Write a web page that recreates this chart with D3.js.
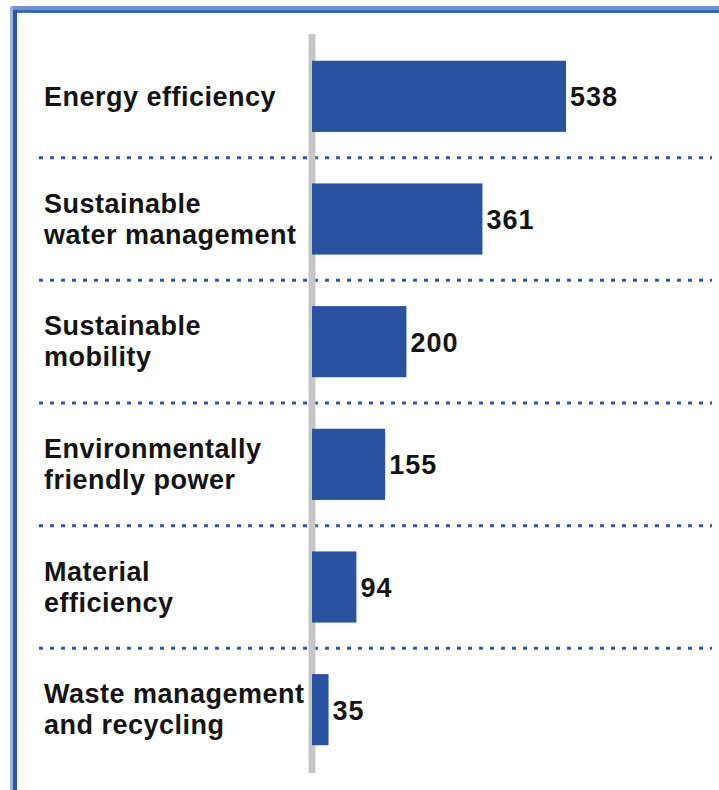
<!DOCTYPE html>
<html>
<head>
<meta charset="utf-8">
<script src="https://cdn.jsdelivr.net/npm/d3@7"></script>
<style>
  body { margin: 0; background: #fff; }
  svg { display: block; }
</style>
</head>
<body>
<svg id="chart"></svg>
<script>
const width = 719;
const height = 790;

// Categories (one entry per label line) and values
const categories = [
  ['Energy efficiency'],
  ['Sustainable', 'water management'],
  ['Sustainable', 'mobility'],
  ['Environmentally', 'friendly power'],
  ['Material', 'efficiency'],
  ['Waste management', 'and recycling']
];
const values = [538, 361, 200, 155, 94, 35];

const data = categories.map((lines, i) => ({ key: lines.join(' '), lines, value: values[i] }));

const svg = d3.select('#chart')
  .attr('width', width)
  .attr('height', height);

const x = d3.scaleLinear()
  .domain([0, d3.max(values)])
  .range([312, 566]);

const y = d3.scaleBand()
  .domain(data.map(d => d.key))
  .range([35, 771])
  .paddingInner(0.42)
  .paddingOuter(0.21);

const font = '"Liberation Sans", Arial, sans-serif';

// Frame: top and left borders
svg.append('rect').attr('x', 10).attr('y', 6).attr('width', width - 10).attr('height', 4).attr('fill', '#7191c9');
svg.append('rect').attr('x', 10).attr('y', 10).attr('width', width - 10).attr('height', 3).attr('fill', '#3f66b1');
svg.append('rect').attr('x', 10).attr('y', 6).attr('width', 3).attr('height', height).attr('fill', '#9fb3da');
svg.append('rect').attr('x', 13).attr('y', 10).attr('width', 4).attr('height', height).attr('fill', '#2a55aa');

// Dotted separators between categories
const gap = y.step() - y.bandwidth();
svg.append('g')
  .selectAll('line')
  .data(data.slice(1))
  .join('line')
  .attr('x1', 39)
  .attr('x2', 712)
  .attr('y1', d => y(d.key) - gap / 2)
  .attr('y2', d => y(d.key) - gap / 2)
  .attr('stroke', '#2e57a8')
  .attr('stroke-width', 3)
  .attr('stroke-dasharray', '4 7');

// Axis line
svg.append('line')
  .attr('x1', x(0))
  .attr('x2', x(0))
  .attr('y1', 34)
  .attr('y2', 773)
  .attr('stroke', '#c6c6c6')
  .attr('stroke-width', 7);

// Bars
svg.append('g')
  .selectAll('rect')
  .data(data)
  .join('rect')
  .attr('x', x(0))
  .attr('y', d => y(d.key))
  .attr('width', d => x(d.value) - x(0))
  .attr('height', y.bandwidth())
  .attr('fill', '#2952a1');

// Category labels
const lineH = 31;
const labels = svg.append('g')
  .selectAll('text')
  .data(data)
  .join('text')
  .attr('font-family', font)
  .attr('font-weight', 'bold')
  .attr('font-size', 27)
  .attr('letter-spacing', 0.5)
  .attr('fill', '#141414');

labels.selectAll('tspan')
  .data(d => d.lines.map((t, i) => ({ t, i, n: d.lines.length, c: y(d.key) + y.bandwidth() / 2 })))
  .join('tspan')
  .attr('x', 44)
  .attr('y', d => d.c + 10 - (d.n - 1) * lineH / 2 - (d.n - 1) + d.i * lineH)
  .text(d => d.t);

// Value labels
svg.append('g')
  .selectAll('text')
  .data(data)
  .join('text')
  .attr('x', d => x(d.value) + 4)
  .attr('y', d => y(d.key) + y.bandwidth() / 2 + 10)
  .attr('font-family', font)
  .attr('font-weight', 'bold')
  .attr('font-size', 27)
  .attr('letter-spacing', 1)
  .attr('fill', '#141414')
  .text(d => d.value);
</script>
</body>
</html>
